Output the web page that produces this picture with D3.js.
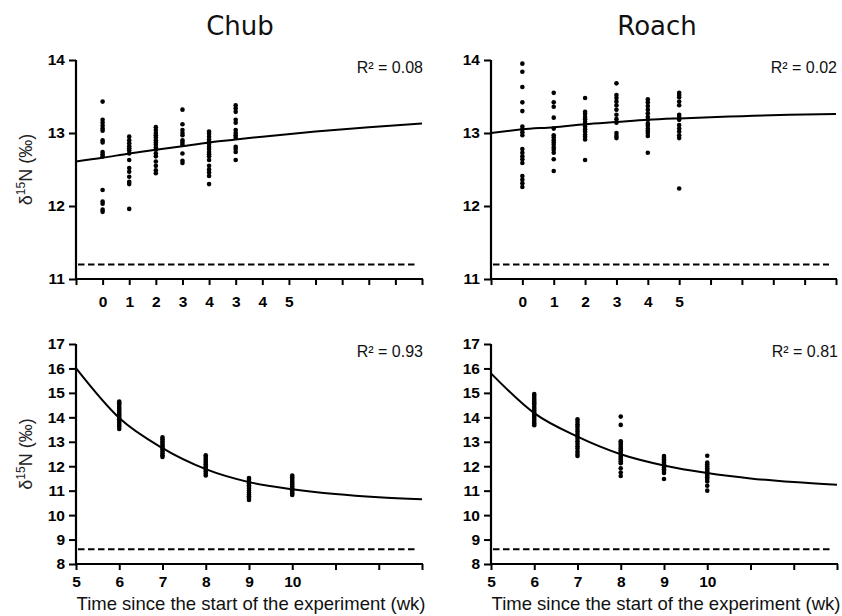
<!DOCTYPE html>
<html>
<head>
<meta charset="utf-8">
<script src="https://cdn.jsdelivr.net/npm/d3@7/dist/d3.min.js"></script>
<style>
  html, body { margin: 0; padding: 0; background: #fff; }
  svg { display: block; }
</style>
</head>
<body>
<svg id="chart" width="842" height="616"></svg>
<script>
// ---------- DATA ----------
const titles = ["Chub", "Roach"];

// Top row: weeks 0–5
const topWeeks = [0, 1, 2, 3, 4, 5];
const chubTopTickLabels = ["0", "1", "2", "3", "4", "3", "4", "5"];
const roachTopTickLabels = ["0", "1", "2", "3", "4", "5"];

const chubTopValues = [
  [13.43, 13.18, 13.14, 13.10, 13.06, 13.03, 12.90, 12.87, 12.74, 12.71, 12.68, 12.22, 12.06, 12.03, 11.95, 11.92],
  [12.95, 12.90, 12.86, 12.82, 12.79, 12.76, 12.72, 12.63, 12.52, 12.47, 12.40, 12.33, 12.30, 11.96],
  [13.08, 13.04, 13.00, 12.97, 12.94, 12.90, 12.87, 12.84, 12.80, 12.77, 12.72, 12.68, 12.61, 12.55, 12.49, 12.45],
  [13.32, 13.12, 13.04, 13.00, 12.97, 12.90, 12.87, 12.84, 12.72, 12.62, 12.59],
  [13.02, 12.99, 12.95, 12.91, 12.88, 12.85, 12.81, 12.78, 12.74, 12.71, 12.68, 12.63, 12.55, 12.50, 12.46, 12.41, 12.30],
  [13.38, 13.34, 13.29, 13.18, 13.14, 13.04, 13.00, 12.97, 12.94, 12.81, 12.78, 12.74, 12.63]
];
const roachTopValues = [
  [13.95, 13.84, 13.63, 13.42, 13.30, 13.09, 13.05, 13.01, 12.97, 12.78, 12.73, 12.68, 12.64, 12.59, 12.41, 12.36, 12.31, 12.26],
  [13.55, 13.42, 13.36, 13.21, 13.06, 12.97, 12.94, 12.90, 12.87, 12.84, 12.80, 12.77, 12.73, 12.64, 12.48],
  [13.48, 13.29, 13.26, 13.22, 13.19, 13.15, 13.12, 13.09, 13.05, 13.02, 12.98, 12.95, 12.91, 12.63],
  [13.68, 13.52, 13.48, 13.43, 13.38, 13.32, 13.25, 13.19, 13.14, 13.00, 12.96, 12.93],
  [13.46, 13.42, 13.37, 13.32, 13.27, 13.22, 13.18, 13.13, 13.10, 13.06, 13.03, 13.00, 12.96, 12.73],
  [13.55, 13.52, 13.49, 13.43, 13.38, 13.25, 13.22, 13.18, 13.11, 13.06, 13.02, 12.97, 12.93, 12.24]
];

// Bottom row: weeks 6–10
const bottomWeeks = [6, 7, 8, 9, 10];
const bottomTickLabels = ["5", "6", "7", "8", "9", "10"];
const chubBottomValues = [
  [14.65, 14.58, 14.50, 14.42, 14.35, 14.28, 14.20, 14.12, 14.05, 13.98, 13.92, 13.85, 13.78, 13.70, 13.62, 13.52],
  [13.18, 13.10, 13.02, 12.95, 12.88, 12.82, 12.75, 12.68, 12.60, 12.52, 12.45, 12.38],
  [12.45, 12.38, 12.30, 12.22, 12.15, 12.08, 12.00, 11.93, 11.86, 11.78, 11.70, 11.62],
  [11.52, 11.45, 11.38, 11.30, 11.22, 11.15, 11.08, 11.00, 10.92, 10.85, 10.77, 10.70, 10.62],
  [11.62, 11.55, 11.48, 11.40, 11.32, 11.25, 11.18, 11.10, 11.02, 10.95, 10.88, 10.82]
];
const roachBottomValues = [
  [14.95, 14.88, 14.80, 14.72, 14.65, 14.58, 14.50, 14.42, 14.35, 14.28, 14.20, 14.12, 14.05, 13.98, 13.90, 13.82, 13.75, 13.68],
  [13.92, 13.82, 13.72, 13.62, 13.52, 13.42, 13.32, 13.22, 13.12, 13.02, 12.92, 12.82, 12.72, 12.60, 12.50, 12.42],
  [14.03, 13.69, 13.02, 12.95, 12.88, 12.80, 12.72, 12.65, 12.58, 12.50, 12.42, 12.35, 12.28, 12.20, 12.12, 11.92, 11.74, 11.60],
  [12.42, 12.35, 12.28, 12.22, 12.15, 12.08, 12.02, 11.95, 11.88, 11.80, 11.72, 11.48],
  [12.43, 12.15, 12.08, 12.00, 11.92, 11.85, 11.78, 11.70, 11.62, 11.55, 11.48, 11.38, 11.20, 11.00]
];

// Fitted curves: [week, value]
const chubTopFit = [[-1, 12.61], [0, 12.66], [1, 12.72], [2, 12.77], [3, 12.82], [4, 12.87], [5, 12.91], [6, 12.95], [8, 13.02], [10, 13.08], [12, 13.13]];
const roachTopFit = [[-1, 13.00], [0, 13.05], [1, 13.08], [2, 13.12], [3, 13.15], [4, 13.18], [5, 13.20], [7, 13.23], [8.5, 13.25], [10, 13.26]];
const chubBottomFit = [[5, 16.01], [6, 13.97], [7, 12.74], [8, 11.88], [9, 11.35], [10, 11.06], [11, 10.86], [12, 10.73], [13, 10.65]];
const roachBottomFit = [[5, 15.80], [6, 14.17], [7, 13.21], [8, 12.49], [9, 12.03], [10, 11.72], [11, 11.50], [12, 11.35], [13, 11.24]];

// Reference (diet) levels, dashed
const topBaseline = 11.2;
const bottomBaseline = 8.6;

const r2Labels = ["R² = 0.08", "R² = 0.02", "R² = 0.93", "R² = 0.81"];
const topYTicks = [11, 12, 13, 14];
const bottomYTicks = [8, 9, 10, 11, 12, 13, 14, 15, 16, 17];
const xTitle = "Time since the start of the experiment (wk)";

// ---------- DRAW ----------
const svg = d3.select("#chart");
const AXIS_FONT = "'Liberation Sans', Arial, sans-serif";

const panels = [
  { xr: [76, 422], yr: [279, 60], xd: [-1, 12], yd: [11, 14], weeks: topWeeks, values: chubTopValues, fit: chubTopFit,
    base: topBaseline, yTicks: topYTicks, tickLabels: chubTopTickLabels, labelStart: 0, r2: r2Labels[0], bottom: false },
  { xr: [491, 836], yr: [279, 60], xd: [-1, 10], yd: [11, 14], weeks: topWeeks, values: roachTopValues, fit: roachTopFit,
    base: topBaseline, yTicks: topYTicks, tickLabels: roachTopTickLabels, labelStart: 0, r2: r2Labels[1], bottom: false },
  { xr: [76, 422], yr: [564, 344], xd: [5, 13], yd: [8, 17], weeks: bottomWeeks, values: chubBottomValues, fit: chubBottomFit,
    base: bottomBaseline, yTicks: bottomYTicks, tickLabels: bottomTickLabels, labelStart: 5, r2: r2Labels[2], bottom: true },
  { xr: [491, 837], yr: [564, 344], xd: [5, 13], yd: [8, 17], weeks: bottomWeeks, values: roachBottomValues, fit: roachBottomFit,
    base: bottomBaseline, yTicks: bottomYTicks, tickLabels: bottomTickLabels, labelStart: 5, r2: r2Labels[3], bottom: true }
];

panels.forEach((p, i) => {
  const x = d3.scaleLinear().domain(p.xd).range(p.xr);
  const y = d3.scaleLinear().domain(p.yd).range(p.yr);
  const g = svg.append("g");

  // dashed reference line
  g.append("line")
    .attr("x1", x(p.xd[0]) + 2).attr("x2", p.xr[1] - 7)
    .attr("y1", y(p.base)).attr("y2", y(p.base))
    .attr("stroke", "#000").attr("stroke-width", 2)
    .attr("stroke-dasharray", "6.5,3.5");

  // X axis
  const xTickVals = d3.range(p.xd[0], p.xd[1] + 1);
  const xAxis = d3.axisBottom(x)
    .tickValues(xTickVals)
    .tickSizeInner(6).tickSizeOuter(0)
    .tickFormat(v => {
      const k = v - p.labelStart;
      return (k >= 0 && k < p.tickLabels.length) ? p.tickLabels[k] : "";
    });
  const gx = g.append("g").attr("transform", `translate(0,${p.yr[0]})`).call(xAxis);
  gx.select(".domain").attr("stroke", "#000").attr("stroke-width", 2.2).attr("d", `M${p.xr[0] - 1},0H${p.xr[1] + 1}`);
  gx.selectAll(".tick line").attr("stroke", "#000").attr("stroke-width", 2);
  gx.selectAll(".tick text")
    .attr("font-family", AXIS_FONT).attr("font-weight", "bold").attr("font-size", 15.5)
    .attr("fill", "#000").attr("dy", p.bottom ? "0.9em" : "1.25em");

  // Y axis
  const yAxis = d3.axisLeft(y).tickValues(p.yTicks).tickSizeInner(7).tickSizeOuter(0).tickFormat(d3.format("d"));
  const gy = g.append("g").attr("transform", `translate(${p.xr[0]},0)`).call(yAxis);
  gy.select(".domain").attr("stroke", "#000").attr("stroke-width", 2.2).attr("d", `M0,${p.yr[0] + 1}V${p.yr[1]}`);
  gy.selectAll(".tick line").attr("stroke", "#000").attr("stroke-width", 2);
  gy.selectAll(".tick text")
    .attr("font-family", AXIS_FONT).attr("font-weight", "bold").attr("font-size", 15.5)
    .attr("fill", "#000").attr("x", -11);

  // fitted curve
  const line = d3.line().x(d => x(d[0])).y(d => y(d[1])).curve(d3.curveMonotoneX);
  g.append("path").datum(p.fit)
    .attr("d", line).attr("fill", "none").attr("stroke", "#000").attr("stroke-width", 2);

  // data points
  p.values.forEach((vals, gi) => {
    g.selectAll(null).data(vals).enter().append("circle")
      .attr("cx", x(p.weeks[gi])).attr("cy", d => y(d))
      .attr("r", 2.3).attr("fill", "#000");
  });

  // R² label
  g.append("text")
    .attr("x", p.xr[1] + 1).attr("y", p.yr[1] + 13)
    .attr("text-anchor", "end")
    .attr("font-family", AXIS_FONT).attr("font-size", 16).attr("fill", "#111")
    .text(p.r2);

  // Y-axis title
  const cy = (p.yr[0] + p.yr[1]) / 2;
  if (i % 2 === 0) {
    const t = g.append("text")
      .attr("transform", `translate(32,${cy}) rotate(-90)`)
      .attr("text-anchor", "middle")
      .attr("font-family", AXIS_FONT).attr("font-size", 18).attr("fill", "#222");
    t.append("tspan").text("δ");
    t.append("tspan").attr("font-size", 12).attr("dy", -7).text("15");
    t.append("tspan").attr("dy", 7).text("N (‰)");
  }

  // X-axis title (bottom row)
  if (p.bottom) {
    g.append("text")
      .attr("x", (p.xr[0] + p.xr[1]) / 2 + 2).attr("y", 610)
      .attr("text-anchor", "middle")
      .attr("font-family", AXIS_FONT).attr("font-size", 18.5).attr("fill", "#111")
      .text(xTitle);
  }
});

// Column titles
[[240, titles[0]], [657, titles[1]]].forEach(([cx, t]) => {
  svg.append("text")
    .attr("x", cx).attr("y", 35)
    .attr("text-anchor", "middle")
    .attr("font-family", "'DejaVu Sans', Verdana, sans-serif").attr("font-size", 26).attr("fill", "#111")
    .text(t);
});
</script>
</body>
</html>
